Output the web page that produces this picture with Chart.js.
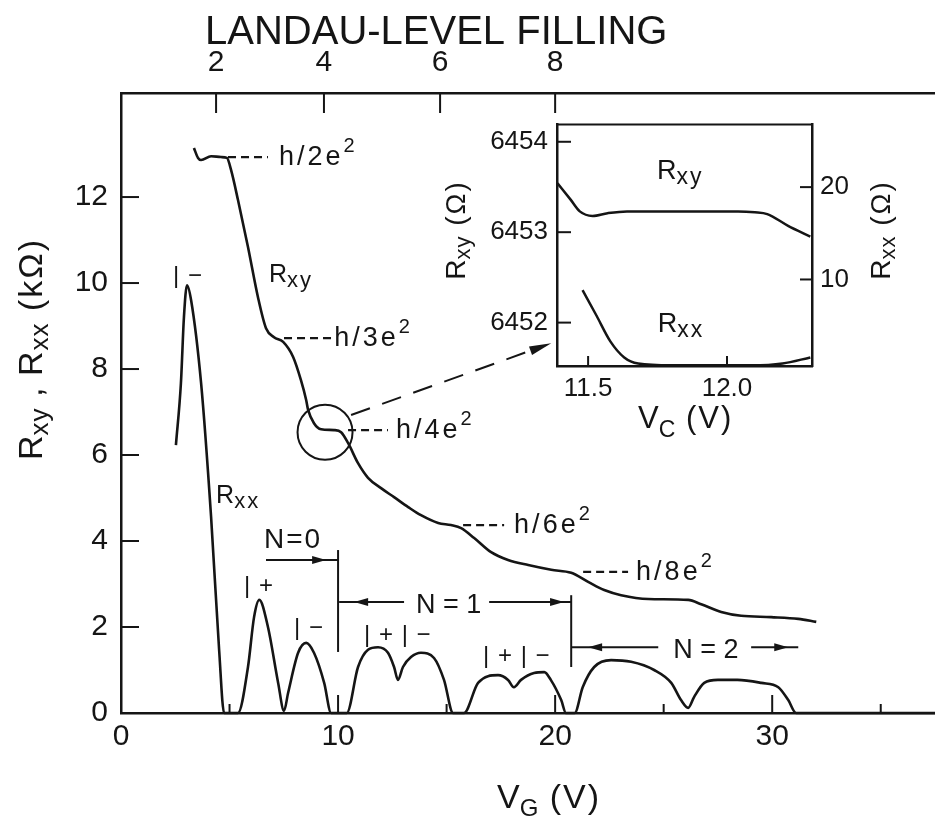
<!DOCTYPE html>
<html>
<head>
<meta charset="utf-8">
<title>Rxy, Rxx vs VG</title>
<script src="https://cdn.jsdelivr.net/npm/chart.js@4.4.1/dist/chart.umd.min.js"></script>
<style>
  html, body { margin: 0; padding: 0; background: #fff; }
  #wrap { position: relative; width: 935px; height: 817px; overflow: hidden; background: #fff; }
  #main { position: absolute; left: 0; top: 0; }
  #inset { position: absolute; left: 440px; top: 100px; }
</style>
</head>
<body>
<div id="wrap">
  <canvas id="main" width="935" height="817"></canvas>
  <canvas id="inset" width="460" height="350"></canvas>
</div>
<script>
// main curves: gate voltage (V), resistance (kOhm)
const rxyVg = [3.36, 3.55, 3.69, 4.15, 4.61, 4.88, 5.07, 5.39, 5.85, 6.31, 6.68, 7.05, 7.47, 7.93, 8.29, 8.53, 8.62, 8.89, 9.22, 9.82,
  10.14, 10.46, 10.92, 11.38, 11.98, 12.58, 13.23, 13.82, 14.61, 15.2, 15.67, 16.27, 17.05, 17.83, 18.76, 19.82, 20.74, 21.52, 22.26, 23.04,
  24.29, 26.13, 26.73, 27.65, 28.57, 29.95, 31.2, 32.03];
const rxyK = [13.14, 12.91, 12.86, 12.95, 12.93, 12.91, 12.63, 11.93, 10.84, 9.67, 8.95, 8.74, 8.63, 8.28, 7.74, 7.28, 7.05, 6.74, 6.6, 6.58,
  6.53, 6.28, 5.81, 5.47, 5.23, 5.02, 4.79, 4.6, 4.42, 4.37, 4.3, 4.07, 3.74, 3.56, 3.44, 3.33, 3.26, 3.05, 2.86, 2.74,
  2.65, 2.63, 2.53, 2.35, 2.26, 2.23, 2.19, 2.12];

const rxxVg = [2.53, 2.76, 2.90, 3.04, 3.23, 3.69, 4.15, 4.52, 4.75, 5.39, 5.85, 6.13, 6.37, 6.77, 7.24, 7.51, 7.7, 8.16, 8.53, 8.89,
  9.36, 9.68, 10.4, 10.92, 11.38, 11.84, 12.3, 12.58, 12.76, 12.99, 13.36, 13.82, 14.42, 14.88, 15.3, 15.8, 16.45, 17.37, 17.83, 18.1,
  18.43, 19.03, 19.5, 19.8, 20.28, 20.5, 20.9, 21.27, 21.8, 22.58, 23.5, 24.56, 25.35, 25.8, 26.13, 26.4, 26.87, 27.5, 28.4, 29.5,
  30.28, 30.74, 31.1, 37.5];
const rxxK = [6.23, 7.67, 9.21, 9.95, 9.6, 7.67, 4.56, 1.47, 0, 0, 1.07, 2.23, 2.63, 2.0, 0.7, 0.05, 0.47, 1.4, 1.63, 1.4,
  0.7, 0, 0, 1.07, 1.47, 1.53, 1.4, 1.07, 0.77, 1.07, 1.3, 1.4, 1.28, 0.77, 0, 0, 0.7, 0.88, 0.77, 0.6,
  0.77, 0.93, 0.95, 0.77, 0.3, 0, 0, 0.6, 1.07, 1.23, 1.19, 1.0, 0.7, 0.3, 0.12, 0.37, 0.7, 0.77, 0.77, 0.7,
  0.6, 0.3, 0, 0];

const xTicks = [0, 10, 20, 30];
const xMinorTicks = [5, 15, 25, 35];
const yTicks = [0, 2, 4, 6, 8, 10, 12];
// Landau-level filling marks on the top axis, and the gate voltage where each sits
const fillingLabels = ['2', '4', '6', '8'];
const fillingVg = [4.38, 9.35, 14.7, 20.0];

// inset: V_C (V), R_xy (Ohm) on the left axis, R_xx (Ohm) on the right axis
const insetRxyVc = [11.39, 11.437, 11.47, 11.516, 11.57, 11.64, 11.75, 11.86, 11.95, 12.04, 12.1, 12.145, 12.22, 12.3];
const insetRxy = [6453.54, 6453.36, 6453.23, 6453.18, 6453.21, 6453.23, 6453.23, 6453.23, 6453.23, 6453.23, 6453.22, 6453.2, 6453.07, 6452.95];
const insetRxxVc = [11.48, 11.53, 11.58, 11.63, 11.68, 11.8, 11.95, 12.09, 12.2, 12.3];
const insetRxx = [8.85, 6.1, 3.3, 1.56, 0.9, 0.7, 0.7, 0.7, 0.9, 1.56];
const insetXTicks = [11.5, 12.0];
const insetXTickLabels = ['11.5', '12.0'];
const insetRxyTicks = [6452, 6453, 6454];
const insetRxxTicks = [10, 20];

const INK = '#151515';
const FONT = '"Liberation Sans", Arial, sans-serif';

function pts(xs, ys) {
  return xs.map((x, i) => ({ x: x, y: ys[i] }));
}

function line(ctx, x0, y0, x1, y1) {
  ctx.beginPath();
  ctx.moveTo(x0, y0);
  ctx.lineTo(x1, y1);
  ctx.stroke();
}

// filled arrow head with its tip at (x, y), pointing along angle a
function head(ctx, x, y, a, len, half) {
  const c = Math.cos(a), s = Math.sin(a);
  ctx.beginPath();
  ctx.moveTo(x, y);
  ctx.lineTo(x - c * len + s * half, y - s * len - c * half);
  ctx.lineTo(x - c * len - s * half, y - s * len + c * half);
  ctx.closePath();
  ctx.fill();
}

// text made of pieces (for subscripts); returns the width
function rich(ctx, parts, x, y) {
  let cx = x;
  parts.forEach(p => {
    ctx.font = p.size + 'px ' + FONT;
    ctx.letterSpacing = (p.ls || 0) + 'px';
    ctx.fillText(p.t, cx, y + (p.dy || 0));
    cx += ctx.measureText(p.t).width;
  });
  ctx.letterSpacing = '0px';
  return cx - x;
}

function richWidth(ctx, parts) {
  let w = 0;
  parts.forEach(p => {
    ctx.font = p.size + 'px ' + FONT;
    ctx.letterSpacing = (p.ls || 0) + 'px';
    w += ctx.measureText(p.t).width;
  });
  ctx.letterSpacing = '0px';
  return w;
}

// text that reads bottom to top, centred on cy, baseline at x = bx
function richUp(ctx, parts, bx, cy) {
  const w = richWidth(ctx, parts);
  ctx.save();
  ctx.translate(bx, cy);
  ctx.rotate(-Math.PI / 2);
  rich(ctx, parts, -w / 2, 0);
  ctx.restore();
}

// annotation layout for the main panel (in axis units)
const plateauMarks = [
  { v0: 4.93, v1: 6.77, r: 12.93, tv: 7.28, text: 'h/2e' },
  { v0: 7.51, v1: 9.68, r: 8.72, tv: 9.82, text: 'h/3e' },
  { v0: 10.46, v1: 12.3, r: 6.58, tv: 12.67, text: 'h/4e' },
  { v0: 15.76, v1: 17.65, r: 4.37, tv: 18.11, text: 'h/6e' },
  { v0: 21.29, v1: 23.36, r: 3.28, tv: 23.73, text: 'h/8e' }
];
const spinMarks = [
  { v: 2.40, r: 10.0, text: '| \u2212' },
  { v: 5.67, r: 2.79, text: '| +' },
  { v: 7.97, r: 1.81, text: '| \u2212' },
  { v: 11.2, r: 1.65, text: '| + | \u2212' },
  { v: 16.68, r: 1.16, text: '| + | \u2212' }
];

const mainDecor = {
  id: 'mainDecor',
  afterDraw(chart) {
    const ctx = chart.ctx, ca = chart.chartArea;
    const xs = chart.scales.x, ys = chart.scales.y, xt = chart.scales.x2;
    const X = v => xs.getPixelForValue(v);
    const Y = r => ys.getPixelForValue(r);
    ctx.save();
    ctx.strokeStyle = INK;
    ctx.fillStyle = INK;
    ctx.lineWidth = 2;
    ctx.textAlign = 'left';
    ctx.textBaseline = 'alphabetic';

    // ticks pointing into the plot
    yTicks.forEach(v => { if (v > 0) line(ctx, ca.left, Y(v), ca.left + 18, Y(v)); });
    xTicks.forEach(v => { if (v > 0) line(ctx, X(v), ca.bottom, X(v), ca.bottom - 18); });
    xMinorTicks.forEach(v => line(ctx, X(v), ca.bottom, X(v), ca.bottom - 9));
    fillingVg.forEach(v => {
      const px = xt.getPixelForValue(v);
      line(ctx, px, ca.top, px, ca.top + 20);
    });

    // quantised plateau values
    plateauMarks.forEach(m => {
      ctx.lineWidth = 2.2;
      ctx.setLineDash([8, 5]);
      line(ctx, X(m.v0), Y(m.r), X(m.v1), Y(m.r));
      ctx.setLineDash([]);
      const w = rich(ctx, [{ t: m.text, size: 27, ls: 3 }], X(m.tv), Y(m.r) + 8);
      rich(ctx, [{ t: '2', size: 20 }], X(m.tv) + w, Y(m.r) - 5);
    });
    ctx.lineWidth = 2;

    // curve names
    rich(ctx, [{ t: 'R', size: 25 }, { t: 'xy', size: 22, dy: 5, ls: 2 }], X(6.82), Y(10.02));
    rich(ctx, [{ t: 'R', size: 25 }, { t: 'xx', size: 22, dy: 5, ls: 2 }], X(4.38), Y(4.88));

    spinMarks.forEach(s => rich(ctx, [{ t: s.text, size: 24, ls: 1 }], X(s.v), Y(s.r)));

    // Landau level groups
    rich(ctx, [{ t: 'N=0', size: 28, ls: 2 }], X(6.59), Y(3.84));
    rich(ctx, [{ t: 'N = 1', size: 27 }], X(13.59), Y(2.33));
    rich(ctx, [{ t: 'N = 2', size: 27 }], X(25.44), Y(1.28));
    line(ctx, X(6.68), Y(3.56), X(10.0), Y(3.56));
    head(ctx, X(9.45), Y(3.56), 0, 14, 4);
    line(ctx, X(10.0), Y(3.79), X(10.0), Y(1.42));
    line(ctx, X(10.05), Y(2.58), X(13.04), Y(2.58));
    head(ctx, X(10.74), Y(2.58), Math.PI, 14, 4);
    line(ctx, X(16.96), Y(2.58), X(20.74), Y(2.58));
    head(ctx, X(20.41), Y(2.58), 0, 14, 4);
    line(ctx, X(20.74), Y(2.74), X(20.74), Y(1.07));
    line(ctx, X(20.74), Y(1.53), X(24.75), Y(1.53));
    head(ctx, X(21.52), Y(1.53), Math.PI, 14, 4);
    line(ctx, X(29.03), Y(1.53), X(31.2), Y(1.53));
    head(ctx, X(30.74), Y(1.53), 0, 14, 4);

    // circle round the h/4e2 plateau and the pointer to the inset
    ctx.beginPath();
    ctx.arc(X(9.4), Y(6.53), 27.5, 0, Math.PI * 2);
    ctx.stroke();
    const ax0 = X(10.6), ay0 = Y(6.93), ax1 = X(19.82), ay1 = Y(8.6);
    const ang = Math.atan2(ay1 - ay0, ax1 - ax0);
    ctx.setLineDash([20, 13]);
    line(ctx, ax0, ay0, ax1 - Math.cos(ang) * 10, ay1 - Math.sin(ang) * 10);
    ctx.setLineDash([]);
    head(ctx, ax1, ay1, ang, 22, 4.5);

    // axis titles
    rich(ctx, [{ t: 'LANDAU-LEVEL FILLING', size: 40 }], 205, 44);
    rich(ctx, [{ t: 'V', size: 34 }, { t: 'G', size: 24, dy: 8 }, { t: ' (V)', size: 34, ls: 2 }], 497, 808);
    richUp(ctx, [{ t: 'R', size: 34 }, { t: 'xy', size: 26, dy: 6, ls: 1 }, { t: ' , R', size: 34, ls: 1 },
      { t: 'xx', size: 26, dy: 6, ls: 1 }, { t: ' (k\u03A9)', size: 34, ls: 2 }], 42, 349);
    ctx.restore();
  }
};

const tickFont = { family: FONT, size: 30 };

new Chart(document.getElementById('main'), {
  type: 'scatter',
  data: {
    datasets: [
      { label: 'Rxy', data: pts(rxyVg, rxyK), showLine: true, borderColor: INK, borderWidth: 2.6,
        pointRadius: 0, cubicInterpolationMode: 'monotone', clip: false },
      { label: 'Rxx', data: pts(rxxVg, rxxK), showLine: true, borderColor: INK, borderWidth: 2.6,
        pointRadius: 0, cubicInterpolationMode: 'monotone', clip: false }
    ]
  },
  options: {
    responsive: false,
    animation: false,
    layout: { padding: 0 },
    plugins: { legend: { display: false }, tooltip: { enabled: false } },
    scales: {
      x: {
        type: 'linear', position: 'bottom', min: 0, max: 37.5,
        afterBuildTicks: s => { s.ticks = xTicks.map(v => ({ value: v })); },
        afterFit: s => { s.height = 104; },
        grid: { display: false, drawTicks: false },
        border: { display: true, color: INK, width: 2.5 },
        ticks: { color: INK, font: tickFont, padding: 6, maxRotation: 0, autoSkip: false }
      },
      x2: {
        type: 'linear', position: 'top', min: 0, max: 37.5,
        afterBuildTicks: s => { s.ticks = fillingVg.map(v => ({ value: v })); },
        afterFit: s => { s.height = 93; },
        grid: { display: false, drawTicks: false },
        border: { display: true, color: INK, width: 2.5 },
        ticks: { color: INK, font: tickFont, padding: 12, maxRotation: 0, autoSkip: false,
          callback: (v, i) => fillingLabels[i] }
      },
      y: {
        type: 'linear', position: 'left', min: 0, max: 14.42,
        afterBuildTicks: s => { s.ticks = yTicks.map(v => ({ value: v })); },
        afterFit: s => { s.width = 121; },
        grid: { display: false, drawTicks: false },
        border: { display: true, color: INK, width: 2.5 },
        ticks: { color: INK, font: tickFont, padding: 13, autoSkip: false, callback: v => String(v) }
      }
    }
  },
  plugins: [mainDecor]
});

const insetDecor = {
  id: 'insetDecor',
  afterDraw(chart) {
    const ctx = chart.ctx, ca = chart.chartArea;
    const xs = chart.scales.x, yl = chart.scales.y, yr = chart.scales.y2;
    ctx.save();
    ctx.strokeStyle = INK;
    ctx.fillStyle = INK;
    ctx.lineWidth = 2;
    ctx.textAlign = 'left';
    ctx.textBaseline = 'alphabetic';
    line(ctx, ca.left, ca.top, ca.right, ca.top);
    insetRxyTicks.forEach(v => line(ctx, ca.left, yl.getPixelForValue(v), ca.left + 14, yl.getPixelForValue(v)));
    insetRxxTicks.forEach(v => line(ctx, ca.right, yr.getPixelForValue(v), ca.right - 12, yr.getPixelForValue(v)));
    insetXTicks.forEach(v => line(ctx, xs.getPixelForValue(v), ca.bottom, xs.getPixelForValue(v), ca.bottom - 10));

    rich(ctx, [{ t: 'R', size: 27 }, { t: 'xy', size: 23, dy: 5, ls: 2 }], xs.getPixelForValue(11.748), yl.getPixelForValue(6453.585));
    rich(ctx, [{ t: 'R', size: 27 }, { t: 'xx', size: 23, dy: 5, ls: 2 }], xs.getPixelForValue(11.751), yl.getPixelForValue(6451.9));

    rich(ctx, [{ t: 'V', size: 31 }, { t: 'C', size: 23, dy: 9 }, { t: ' (V)', size: 31, ls: 2 }], 198, 328);
    richUp(ctx, [{ t: 'R', size: 28 }, { t: 'xy', size: 22, dy: 5, ls: 1 }, { t: ' (\u03A9)', size: 28, ls: 2 }], 25, 130);
    richUp(ctx, [{ t: 'R', size: 28 }, { t: 'xx', size: 22, dy: 5, ls: 1 }, { t: ' (\u03A9)', size: 28, ls: 2 }], 450, 130);
    ctx.restore();
  }
};

const insetFont = { family: FONT, size: 26 };

new Chart(document.getElementById('inset'), {
  type: 'scatter',
  data: {
    datasets: [
      { label: 'Rxy', data: pts(insetRxyVc, insetRxy), yAxisID: 'y', showLine: true, borderColor: INK,
        borderWidth: 2.5, pointRadius: 0, cubicInterpolationMode: 'monotone' },
      { label: 'Rxx', data: pts(insetRxxVc, insetRxx), yAxisID: 'y2', showLine: true, borderColor: INK,
        borderWidth: 2.5, pointRadius: 0, cubicInterpolationMode: 'monotone' }
    ]
  },
  options: {
    responsive: false,
    animation: false,
    layout: { padding: { top: 15, left: 0, right: 0, bottom: 0 } },
    plugins: { legend: { display: false }, tooltip: { enabled: false } },
    scales: {
      x: {
        type: 'linear', position: 'bottom', min: 11.388, max: 12.306,
        afterBuildTicks: s => { s.ticks = insetXTicks.map(v => ({ value: v })); },
        afterFit: s => { s.height = 84; },
        grid: { display: false, drawTicks: false },
        border: { display: true, color: INK, width: 2.5 },
        ticks: { color: INK, font: insetFont, padding: 7, maxRotation: 0, autoSkip: false,
          callback: (v, i) => insetXTickLabels[i] }
      },
      y: {
        type: 'linear', position: 'left', min: 6451.52, max: 6454.19,
        afterBuildTicks: s => { s.ticks = insetRxyTicks.map(v => ({ value: v })); },
        afterFit: s => { s.width = 117; },
        grid: { display: false, drawTicks: false },
        border: { display: true, color: INK, width: 2.5 },
        ticks: { color: INK, font: insetFont, padding: 9, autoSkip: false, callback: v => String(v) }
      },
      y2: {
        type: 'linear', position: 'right', min: 0.63, max: 26.77,
        afterBuildTicks: s => { s.ticks = insetRxxTicks.map(v => ({ value: v })); },
        afterFit: s => { s.width = 88; },
        grid: { display: false, drawTicks: false },
        border: { display: true, color: INK, width: 2.5 },
        ticks: { color: INK, font: insetFont, padding: 8, autoSkip: false, callback: v => String(v) }
      }
    }
  },
  plugins: [insetDecor]
});
</script>
</body>
</html>
